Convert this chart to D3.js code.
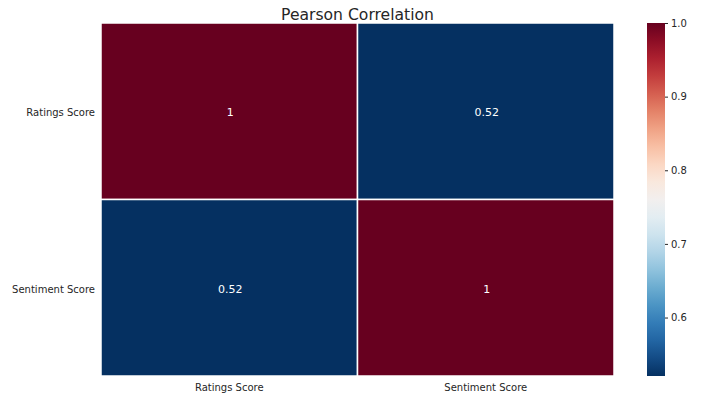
<!DOCTYPE html>
<html>
<head>
<meta charset="utf-8">
<script src="https://cdn.jsdelivr.net/npm/d3@7"></script>
<style>
  body { margin: 0; background: #fff; }
  svg text { font-family: "DejaVu Sans", sans-serif; fill: #262626; }
</style>
</head>
<body>
<div id="chart"></div>
<script>
// labels and correlation values
const labels = ["Ratings Score", "Sentiment Score"];
const matrix = [
    [1, 0.52],
    [0.52, 1]
];
const annotations = [
    ["1", "0.52"],
    ["0.52", "1"]
];
const cbarTicks = [0.6, 0.7, 0.8, 0.9, 1.0];
const vmin = 0.5206, vmax = 1.0;

const width = 701, height = 396;
const m = { left: 101, top: 23, right: 614, bottom: 376 };

const svg = d3.select("#chart").append("svg")
    .attr("width", width)
    .attr("height", height);

const x = d3.scaleBand().domain(labels).range([m.left, m.right]);
const y = d3.scaleBand().domain(labels).range([m.top, m.bottom]);

// RdBu_r
const color = v => d3.interpolateRdBu(1 - (v - vmin) / (vmax - vmin));

const cells = [];
matrix.forEach((row, i) => row.forEach((v, j) => cells.push({ r: labels[i], c: labels[j], v: v, t: annotations[i][j] })));

svg.selectAll(".cell")
    .data(cells)
    .enter()
    .append("rect")
    .attr("class", "cell")
    .attr("x", d => x(d.c))
    .attr("y", d => y(d.r))
    .attr("width", x.bandwidth())
    .attr("height", y.bandwidth())
    .attr("fill", d => color(d.v))
    .attr("stroke", "#fff")
    .attr("stroke-width", 1.5);

svg.selectAll(".ann")
    .data(cells)
    .enter()
    .append("text")
    .attr("x", d => x(d.c) + x.bandwidth() / 2 + 1)
    .attr("y", d => y(d.r) + y.bandwidth() / 2 + 1)
    .attr("dy", "0.35em")
    .attr("text-anchor", "middle")
    .style("font-size", "11px")
    .style("fill", "#fff")
    .text(d => d.t);

// axis labels (no tick lines)
svg.selectAll(".xl")
    .data(labels)
    .enter()
    .append("text")
    .attr("x", d => x(d) + x.bandwidth() / 2)
    .attr("y", 391)
    .attr("text-anchor", "middle")
    .style("font-size", "10px")
    .text(d => d);

svg.selectAll(".yl")
    .data(labels)
    .enter()
    .append("text")
    .attr("x", 95)
    .attr("y", d => y(d) + y.bandwidth() / 2 + 1.5)
    .attr("dy", "0.35em")
    .attr("text-anchor", "end")
    .style("font-size", "10px")
    .text(d => d);

// title
svg.append("text")
    .attr("x", (m.left + m.right) / 2)
    .attr("y", 20)
    .attr("text-anchor", "middle")
    .style("font-size", "15.6px")
    .text("Pearson Correlation");

// colorbar
const cb = { x: 647, w: 18 };
const cy = d3.scaleLinear().domain([vmin, vmax]).range([m.bottom, m.top]);

const defs = svg.append("defs");
const grad = defs.append("linearGradient")
    .attr("id", "cbar")
    .attr("x1", 0).attr("y1", 1).attr("x2", 0).attr("y2", 0);
d3.range(0, 1.0001, 0.05).forEach(t => {
    grad.append("stop")
        .attr("offset", t)
        .attr("stop-color", d3.interpolateRdBu(1 - t));
});

svg.append("rect")
    .attr("x", cb.x)
    .attr("y", m.top)
    .attr("width", cb.w)
    .attr("height", m.bottom - m.top)
    .attr("fill", "url(#cbar)");

const cAxis = svg.append("g")
    .attr("transform", `translate(${cb.x + cb.w},0)`)
    .call(d3.axisRight(cy).tickValues(cbarTicks).tickFormat(d3.format(".1f")).tickSize(3).tickPadding(3));
cAxis.select(".domain").remove();
cAxis.selectAll("line").attr("stroke", "#262626");
cAxis.selectAll("text").style("font-size", "10px").style("font-family", "DejaVu Sans, sans-serif").attr("fill", "#262626");
</script>
</body>
</html>
